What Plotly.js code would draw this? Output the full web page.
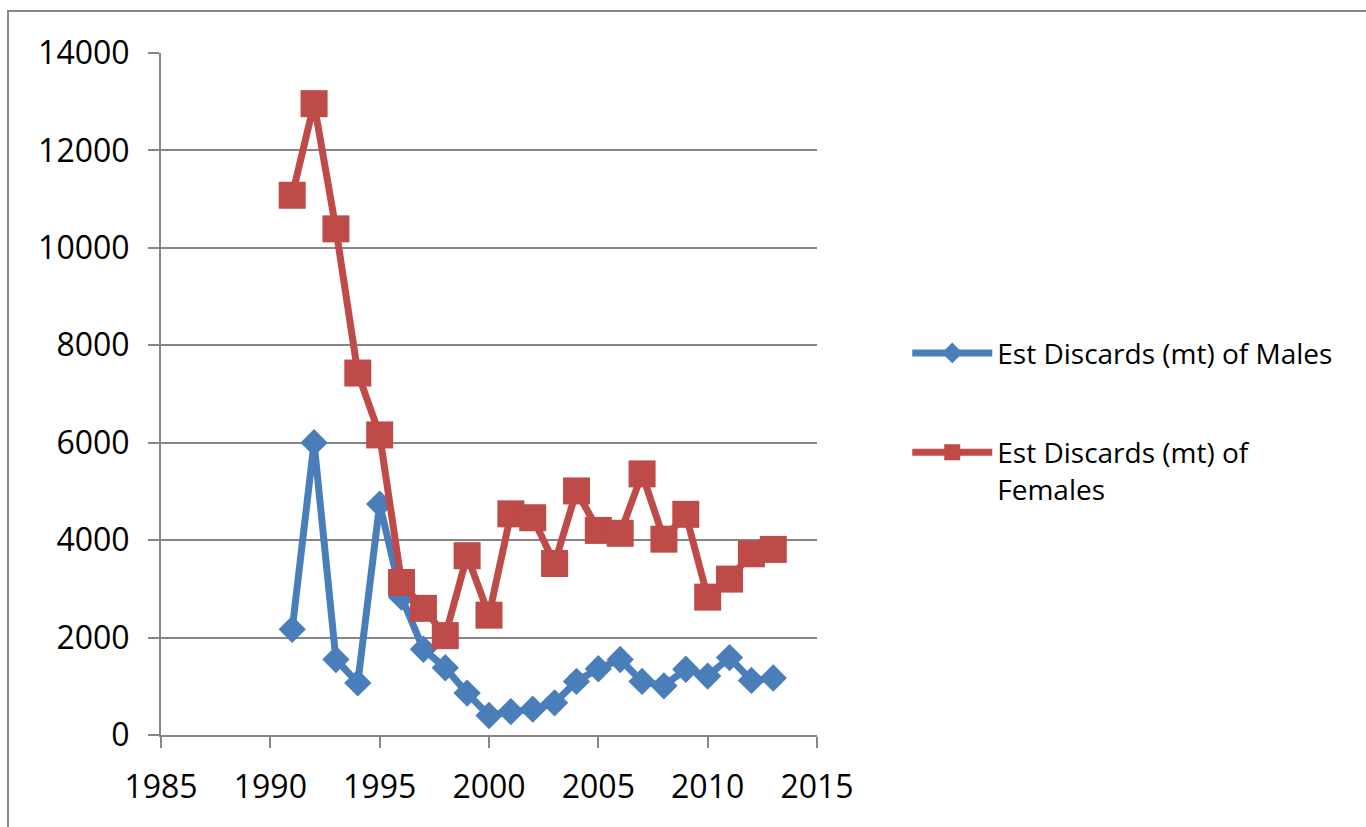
<!DOCTYPE html>
<html>
<head>
<meta charset="utf-8">
<script src="https://cdn.plot.ly/plotly-3.0.1.min.js"></script>
<style>html,body{margin:0;padding:0;background:#fff;}#chart{width:1366px;height:827px;}</style>
</head>
<body>
<div id="chart"></div>
<script>
const years = [1991,1992,1993,1994,1995,1996,1997,1998,1999,2000,2001,2002,2003,2004,2005,2006,2007,2008,2009,2010,2011,2012,2013];
const males = [2170,6000,1550,1070,4740,2830,1760,1380,860,400,480,530,660,1100,1360,1550,1100,1010,1350,1210,1590,1120,1170];
const females = [11080,12960,10390,7430,6160,3130,2600,2040,3680,2460,4540,4460,3520,5010,4200,4140,5360,4020,4530,2830,3200,3720,3810];
const seriesNames = ["Est Discards (mt) of Males", "Est Discards (mt) of<br>Females"];

const blue = "#4A7EBB", red = "#BE4B48", gray = "#868686";
const font = "Open Sans, Noto Sans, sans-serif";

const traces = [
  {x: years, y: males, name: seriesNames[0], mode: "lines+markers", legendgroup: "m",
   line: {color: blue, width: 7}, marker: {symbol: "diamond", size: 21, color: blue}},
  {x: years, y: females, name: seriesNames[1], mode: "lines+markers", legendgroup: "f",
   line: {color: red, width: 7}, marker: {symbol: "square", size: 27, color: red}}
];

const layout = {
  width: 1366, height: 827,
  margin: {l: 161, r: 549, t: 53, b: 92},
  paper_bgcolor: "#fff", plot_bgcolor: "#fff",
  font: {family: font, size: 32, color: "#000"},
  showlegend: true,
  legend: {x: 1.1376, xanchor: "left", y: 0.5965, yanchor: "top", font: {family: font, size: 28, color: "#000"},
           itemwidth: 80, tracegroupgap: 60, valign: "top", bgcolor: "rgba(0,0,0,0)"},
  xaxis: {range: [1985, 2015], tick0: 1985, dtick: 5, showgrid: false, zeroline: false,
          showline: true, linecolor: gray, linewidth: 2, ticks: "outside", ticklen: 11, tickwidth: 2,
          tickcolor: gray, tickfont: {family: font, size: 32}, ticklabelstandoff: 12, tickformat: "d"},
  yaxis: {range: [0, 14000], dtick: 2000, showgrid: true, gridcolor: gray, gridwidth: 2, zeroline: false,
          showline: true, linecolor: gray, linewidth: 2, ticks: "outside", ticklen: 11, tickwidth: 2,
          tickcolor: gray, tickfont: {family: font, size: 32}, ticklabelstandoff: 12, tickformat: "d"},
  shapes: [{type: "rect", xref: "paper", yref: "paper", x0: -153/656, x1: 1300/656, y0: -200/682, y1: (682+42)/682,
            line: {color: gray, width: 2}, fillcolor: "rgba(0,0,0,0)", layer: "below"}]
};

Plotly.newPlot("chart", traces, layout, {displayModeBar: false, staticPlot: true});
</script>
</body>
</html>
